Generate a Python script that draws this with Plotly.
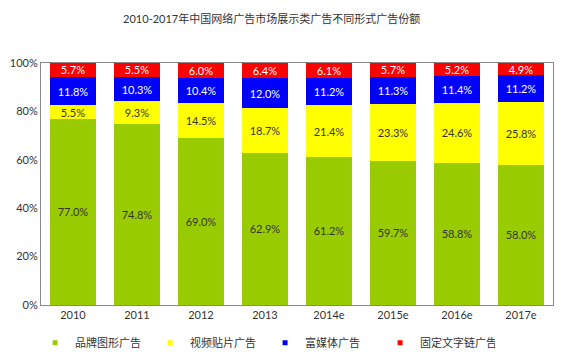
import plotly.graph_objects as go

years = ["2010", "2011", "2012", "2013", "2014e", "2015e", "2016e", "2017e"]
brand = [77.0, 74.8, 69.0, 62.9, 61.2, 59.7, 58.8, 58.0]
video = [5.5, 9.3, 14.5, 18.7, 21.4, 23.3, 24.6, 25.8]
rich = [11.8, 10.3, 10.4, 12.0, 11.2, 11.3, 11.4, 11.2]
text_link = [5.7, 5.5, 6.0, 6.4, 6.1, 5.7, 5.2, 4.9]

series = [
    ("品牌图形广告", brand, "#99cc00", "#333333"),
    ("视频贴片广告", video, "#ffff00", "#333333"),
    ("富媒体广告", rich, "#0000ff", "#ffffff"),
    ("固定文字链广告", text_link, "#ff0000", "#ffffff"),
]

font_family = "Lato, 'Noto Sans CJK SC', sans-serif"

fig = go.Figure()
for name, vals, color, tcolor in series:
    fig.add_trace(go.Bar(
        x=years, y=vals, name=name, showlegend=False,
        marker=dict(color=color, line=dict(width=0)),
        text=[f"{v:.1f}%" for v in vals],
        textposition="inside", insidetextanchor="middle",
        textfont=dict(color=tcolor, size=11, family=font_family),
        constraintext="none",
    ))
# legend entries with small square markers
for name, vals, color, tcolor in series:
    fig.add_trace(go.Scatter(
        x=[None], y=[None], mode="markers", name=name,
        marker=dict(symbol="square", size=5, color=color),
    ))

fig.update_layout(
    barmode="stack",
    bargap=0.28,
    width=566, height=359,
    margin=dict(l=41, r=13, t=63, b=54, autoexpand=False),
    paper_bgcolor="white", plot_bgcolor="white",
    title=dict(text="2010-2017年中国网络广告市场展示类广告不同形式广告份额",
               x=0.48, xanchor="center", yref="container", y=0.947, yanchor="middle",
               font=dict(size=11, color="#333333", family=font_family)),
    font=dict(family=font_family, color="#333333", size=11),
    legend=dict(orientation="h", xref="container", x=0.062, xanchor="left",
                yref="container", y=0.045, yanchor="middle",
                traceorder="normal", entrywidth=70, entrywidthmode="pixels",
                font=dict(size=11, color="#333333", family=font_family),
                itemwidth=30),
    showlegend=True,
)
fig.update_yaxes(range=[0, 100], tickvals=[0, 20, 40, 60, 80, 100],
                 ticktext=["0%", "20%", "40%", "60%", "80%", "100%"],
                 showgrid=False, showline=True, linecolor="#888888", linewidth=1,
                 mirror=True, ticks="", zeroline=False,
                 tickfont=dict(size=11, color="#333333"))
fig.update_xaxes(showline=True, linecolor="#888888", linewidth=1, mirror=True,
                 ticks="", tickfont=dict(size=11, color="#333333"))

fig.write_html("out.html", config={"displayModeBar": False},
               post_script="document.body.style.margin='0';")
